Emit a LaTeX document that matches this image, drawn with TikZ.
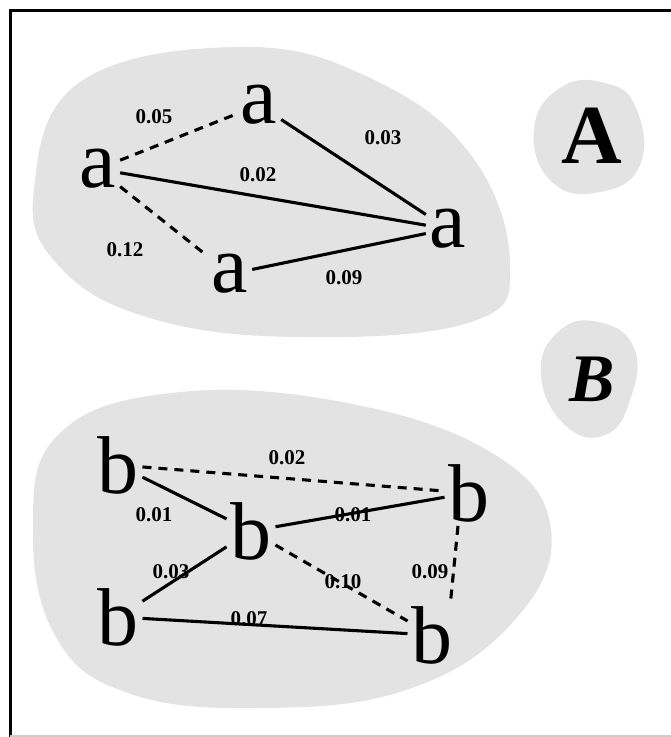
\documentclass[tikz,border=0pt]{standalone}
\usepackage{fontspec}
\setmainfont{Liberation Serif}
\usetikzlibrary{positioning}
\definecolor{blobgray}{RGB}{227,227,227}

\begin{document}
\begin{tikzpicture}[
      x=1pt,y=-1pt,
      letter/.style={font=\fontsize{82}{82}\selectfont,inner sep=0pt,outer sep=4pt},
      wt/.style={font=\fontsize{21}{21}\selectfont\bfseries,inner sep=0pt},
      blob/.style={fill=blobgray,draw=none},
      link/.style={line width=3.1pt},
      dlink/.style={line width=3.1pt,dash pattern=on 9pt off 7pt}
    ]
      \useasboundingbox (0,0) rectangle (671,737);
      \fill[white] (0,0) rectangle (671,737);

      % Frame
      \draw[line width=3pt] (10,740) -- (10,10.5) -- (675,10.5);
      \draw[gray!40,line width=1.5pt] (10,736) -- (675,736);

      % Blobs
      \fill[blob] plot[smooth cycle,tension=0.7] coordinates {(34,190) (80,82) (240,47) (370,78) (471,155) (510,265) (471,322) (300,337) (150,318) (58,265)};
      \fill[blob] plot[smooth cycle,tension=0.7] coordinates {(33,530) (58,435) (171,393) (342,402) (492,453) (551,530) (513,622) (406,690) (257,708) (128,693) (56,637)};
      \fill[blob] plot[smooth cycle,tension=0.8] coordinates {(534,130) (560,88) (605,83) (636,108) (640,165) (600,192) (552,182)};
      \fill[blob] plot[smooth cycle,tension=0.8] coordinates {(541,375) (558,332) (598,322) (634,348) (630,400) (605,435) (565,425)};

      % Group A
      \node[letter] (aL) at (98,169) {a};
      \node[letter] (aT) at (259,105) {a};
      \node[letter] (aR) at (448,229) {a};
      \node[letter] (aB) at (230,274) {a};

      \draw[dlink] (aL) -- (aT);
      \draw[link] (aT) -- (aR);
      \draw[link] (aL) -- (aR);
      \draw[dlink] (aL) -- (aB);
      \draw[link] (aB) -- (aR);

      \node[wt] (w05) at (154,117) {0.05};
      \node[wt] (w03) at (383,138) {0.03};
      \node[wt] (w02) at (258,175) {0.02};
      \node[wt] (w12) at (125,250) {0.12};
      \node[wt] (w09) at (344,278) {0.09};

      % Group B
      \node[letter] (bTL) at (118,465) {b};
      \node[letter] (bC) at (251,531) {b};
      \node[letter] (bR) at (469,493) {b};
      \node[letter] (bBL) at (118,617) {b};
      \node[letter] (bBR) at (432,635) {b};

      \draw[dlink] (bTL) -- (bR);
      \draw[link] (bTL) -- (bC);
      \draw[link] (bC) -- (bR);
      \draw[link] (bC) -- (bBL);
      \draw[dlink] (bC) -- (bBR);
      \draw[link] (bBL) -- (bBR);
      \draw[dlink] ([xshift=-11pt]bR.south) -- ([xshift=-6pt]bBR.north east);

      \node[wt] (v02) at (287,458) {0.02};
      \node[wt] (v01a) at (154,515) {0.01};
      \node[wt] (v01b) at (353,515) {0.01};
      \node[wt] (v03) at (171,572) {0.03};
      \node[wt] (v10) at (343,582) {0.10};
      \node[wt] (v09) at (430,572) {0.09};
      \node[wt] (v07) at (249,619) {0.07};

      % Set labels
      \node[font=\fontsize{84}{84}\selectfont\bfseries,inner sep=0pt] (labA) at (592,136) {A};
      \node[font=\fontsize{68}{68}\selectfont\bfseries\itshape,inner sep=0pt] (labB) at (592,379) {B};
    \end{tikzpicture}
\end{document}
